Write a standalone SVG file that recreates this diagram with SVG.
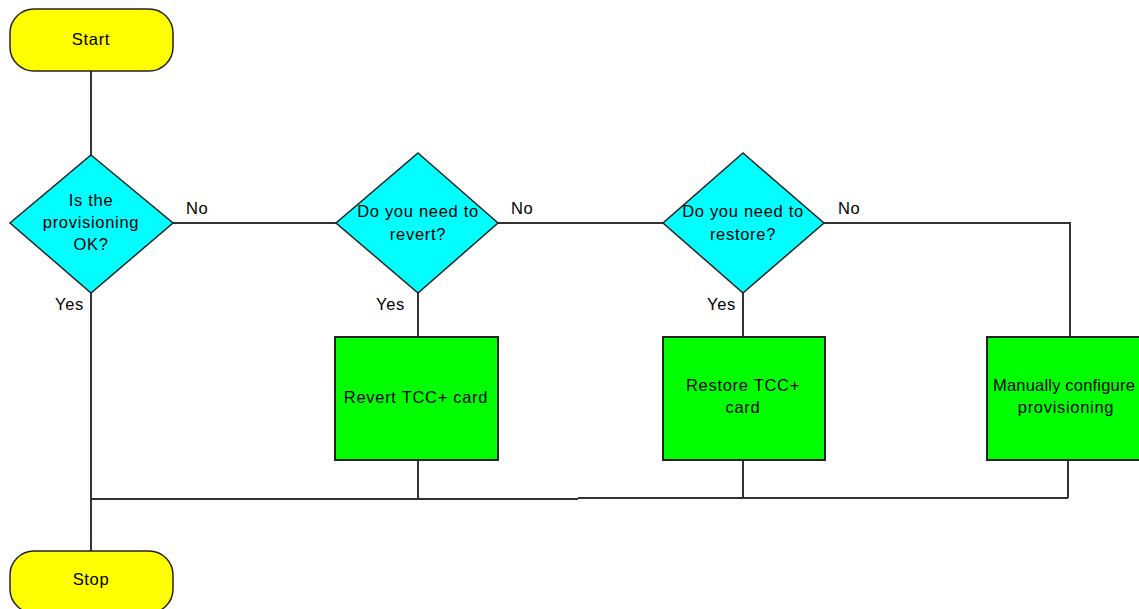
<svg xmlns="http://www.w3.org/2000/svg" width="1139" height="609" viewBox="0 0 1139 609">
<style>
.t{font-family:"Liberation Sans",Arial,sans-serif;font-size:16.5px;fill:#000;text-anchor:middle;letter-spacing:0.7px}
.l{font-family:"Liberation Sans",Arial,sans-serif;font-size:16.5px;fill:#000;letter-spacing:0.7px}
.term{fill:#ffff00;stroke:#222;stroke-width:1.5}
.dec{fill:#00ffff;stroke:#222;stroke-width:1.5}
.proc{fill:#00ff00;stroke:#222;stroke-width:2}
.c{fill:none;stroke:#333;stroke-width:2}
</style>
<rect width="1139" height="609" fill="#fff"/>
<g id="connectors">
<path class="c" d="M91 71V155"/>
<path class="c" d="M91 293V551"/>
<path class="c" d="M173 223H336"/>
<path class="c" d="M498 223H663"/>
<path class="c" d="M824 223H1070V337"/>
<path class="c" d="M418 293V337"/>
<path class="c" d="M743 293V337"/>
<path class="c" d="M418 460V499"/>
<path class="c" d="M743 460V498"/>
<path class="c" d="M1068 460V498"/>
<path class="c" d="M91 499H578"/>
<path class="c" d="M578 498H1068"/>
<text class="l" x="186" y="214">No</text>
<text class="l" x="511" y="214">No</text>
<text class="l" x="838" y="214">No</text>
<text class="l" x="55" y="310">Yes</text>
<text class="l" x="376" y="310">Yes</text>
<text class="l" x="707" y="310">Yes</text>
</g>
<g id="start">
<rect class="term" x="10" y="9" width="163" height="62" rx="24" ry="24"/>
<text class="t" x="91" y="45">Start</text>
</g>
<g id="d1">
<polygon class="dec" points="91,155 173,223 91,293 10,223"/>
<text class="t" x="91" y="206">Is the</text>
<text class="t" x="91" y="228">provisioning</text>
<text class="t" x="91" y="250">OK?</text>
</g>
<g id="d2">
<polygon class="dec" points="418,153 498,223 418,293 336,223"/>
<text class="t" x="418" y="217">Do you need to</text>
<text class="t" x="418" y="240">revert?</text>
</g>
<g id="d3">
<polygon class="dec" points="743,153 824,223 743,293 663,223"/>
<text class="t" x="743" y="217">Do you need to</text>
<text class="t" x="743" y="240">restore?</text>
</g>
<g id="p1">
<rect class="proc" x="335" y="337" width="163" height="123"/>
<text class="t" x="416" y="403">Revert TCC+ card</text>
</g>
<g id="p2">
<rect class="proc" x="663" y="337" width="162" height="123"/>
<text class="t" x="743" y="391">Restore TCC+</text>
<text class="t" x="743" y="413">card</text>
</g>
<g id="p3">
<rect class="proc" x="987" y="337" width="160" height="123"/>
<text class="t" x="1064" y="391" style="letter-spacing:0.2px">Manually configure</text>
<text class="t" x="1066" y="413">provisioning</text>
</g>
<g id="stop">
<rect class="term" x="10" y="551" width="163" height="62" rx="24" ry="24"/>
<text class="t" x="91" y="585">Stop</text>
</g>
</svg>
